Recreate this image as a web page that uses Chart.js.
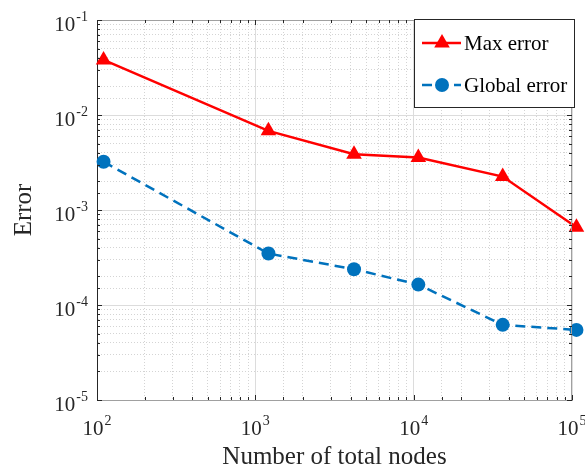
<!DOCTYPE html>
<html><head><meta charset="utf-8">
<script src="https://cdn.jsdelivr.net/npm/chart.js@4.4.0/dist/chart.umd.min.js"></script>
<style>html,body{margin:0;padding:0;background:#fff;}</style>
</head><body>
<canvas id="c" width="585" height="473"></canvas>
<script>
const nodes = [110, 1210, 4200, 10700, 36500, 106700];
const maxError = [0.038, 0.00681, 0.00386, 0.00356, 0.00225, 0.000659];
const globalError = [0.00322, 0.000348, 0.000238, 0.000164, 0.0000618, 0.0000547];
const seriesLabels = ['Max error', 'Global error'];
const xAxisTitle = 'Number of total nodes';
const yAxisTitle = 'Error';
const xRange = [1e2, 1e5];
const yRange = [1e-5, 1e-1];

const SERIF = '"Liberation Serif", "Times New Roman", serif';
function isMajor(v){ if (v === undefined || v === null) return true; const e = Math.log10(v); return Math.abs(e - Math.round(e)) < 1e-6; }
function expOf(v){ return Math.round(Math.log10(v)); }

const maxPts = nodes.map((x, i) => ({x, y: maxError[i]}));
const globPts = nodes.map((x, i) => ({x, y: globalError[i]}));

const gridColor = ctx => (ctx.tick && !isMajor(ctx.tick.value)) ? '#d4d4d4' : '#dcdcdc';
const gridDash = ctx => (ctx.tick && !isMajor(ctx.tick.value)) ? [1, 2] : [];

function drawPow(ctx, exp, x, y, align, baseOff, supOff) {
  ctx.font = '21px ' + SERIF;
  const wBase = ctx.measureText('10').width;
  ctx.font = '14px ' + SERIF;
  const sup = String(exp);
  const wSup = ctx.measureText(sup).width;
  const gap = 1;
  const total = wBase + gap + wSup;
  let x0 = align === 'right' ? x - total : x - total / 2;
  ctx.textAlign = 'left';
  ctx.textBaseline = 'alphabetic';
  ctx.font = '21px ' + SERIF;
  ctx.fillText('10', x0, y + baseOff);
  ctx.font = '14px ' + SERIF;
  ctx.fillText(sup, x0 + wBase + gap, y + supOff);
}

const boxPlugin = {
  id: 'boxTicks',
  afterDraw(chart) {
    const {ctx, chartArea: a, scales} = chart;
    ctx.save();
    // top & right box lines
    ctx.strokeStyle = '#a0a0a0';
    ctx.lineWidth = 1;
    ctx.beginPath();
    ctx.moveTo(a.left, a.top + 0.5); ctx.lineTo(a.right, a.top + 0.5);
    ctx.moveTo(a.right - 0.5, a.top); ctx.lineTo(a.right - 0.5, a.bottom);
    ctx.stroke();
    // inward ticks
    ctx.strokeStyle = '#262626';
    ctx.beginPath();
    scales.x.ticks.forEach(t => {
      const px = Math.round(scales.x.getPixelForValue(t.value)) + 0.5;
      const len = isMajor(t.value) ? 5 : 3;
      ctx.moveTo(px, a.bottom); ctx.lineTo(px, a.bottom - len);
      ctx.moveTo(px, a.top); ctx.lineTo(px, a.top + len);
    });
    scales.y.ticks.forEach(t => {
      const py = Math.round(scales.y.getPixelForValue(t.value)) + 0.5;
      const len = isMajor(t.value) ? 5 : 3;
      ctx.moveTo(a.left, py); ctx.lineTo(a.left + len, py);
      ctx.moveTo(a.right, py); ctx.lineTo(a.right - len, py);
    });
    ctx.stroke();
    // tick labels with superscript exponents
    ctx.fillStyle = '#262626';
    scales.x.ticks.forEach(t => {
      if (!isMajor(t.value)) return;
      const px = scales.x.getPixelForValue(t.value);
      drawPow(ctx, expOf(t.value), px, a.bottom, 'center', 35, 25);
    });
    scales.y.ticks.forEach(t => {
      if (!isMajor(t.value)) return;
      const py = scales.y.getPixelForValue(t.value);
      drawPow(ctx, expOf(t.value), a.left - 9, py, 'right', 11, 1);
    });
    // legend box
    const L = 414, T = 19, R = 575, B = 108;
    ctx.fillStyle = '#fff';
    ctx.fillRect(L, T, R - L, B - T);
    ctx.strokeStyle = '#262626';
    ctx.lineWidth = 1;
    ctx.strokeRect(L + 0.5, T + 0.5, R - L - 1, B - T - 1);
    const rows = [43, 85];
    chart.data.datasets.forEach((ds, i) => {
      const y = rows[i];
      ctx.strokeStyle = ds.borderColor;
      ctx.lineWidth = ds.borderWidth;
      ctx.setLineDash(ds.borderDash || []);
      ctx.lineDashOffset = 0;
      ctx.beginPath(); ctx.moveTo(422, y); ctx.lineTo(461, y); ctx.stroke();
      ctx.setLineDash([]);
      ctx.fillStyle = ds.pointBackgroundColor;
      ctx.beginPath();
      const cx = 442, r = ds.pointRadius;
      if (ds.pointStyle === 'triangle') {
        ctx.moveTo(cx, y - r);
        ctx.lineTo(cx + r * Math.sin(2*Math.PI/3), y - r * Math.cos(2*Math.PI/3));
        ctx.lineTo(cx - r * Math.sin(2*Math.PI/3), y - r * Math.cos(2*Math.PI/3));
        ctx.closePath();
      } else {
        ctx.arc(cx, y, r, 0, Math.PI * 2);
      }
      ctx.fill();
      ctx.fillStyle = '#000';
      ctx.font = '21px ' + SERIF;
      ctx.textBaseline = 'middle';
      ctx.textAlign = 'left';
      ctx.fillText(ds.label, 464, y + 1);
    });
    ctx.restore();
  }
};

new Chart(document.getElementById('c'), {
  type: 'line',
  data: {
    datasets: [
      {
        label: seriesLabels[0], data: maxPts,
        borderColor: '#ff0000', backgroundColor: '#ff0000',
        pointBackgroundColor: '#ff0000', pointBorderColor: '#ff0000',
        borderWidth: 2.5, pointStyle: 'triangle', pointRadius: 9, pointBorderWidth: 0,
        tension: 0, clip: false
      },
      {
        label: seriesLabels[1], data: globPts,
        borderColor: '#0072bd', backgroundColor: '#0072bd',
        pointBackgroundColor: '#0072bd', pointBorderColor: '#0072bd',
        borderWidth: 2.5, borderDash: [10, 6], pointStyle: 'circle', pointRadius: 7, pointBorderWidth: 0,
        tension: 0, clip: false
      }
    ]
  },
  options: {
    responsive: false,
    animation: false,
    layout: { padding: { top: 20, right: 13, left: 0, bottom: 0 } },
    plugins: { legend: { display: false }, tooltip: { enabled: false } },
    scales: {
      x: {
        type: 'logarithmic', min: xRange[0], max: xRange[1], position: 'bottom',
        afterFit: s => { s.height = 73; s.paddingLeft = 0; s.paddingRight = 0; },
        ticks: { display: false, autoSkip: false },
        grid: { color: gridColor, lineWidth: 1, drawTicks: false },
        border: { display: true, color: '#a0a0a0', width: 1, dash: gridDash },
        title: { display: true, text: xAxisTitle, color: '#262626', font: { family: SERIF, size: 25 }, padding: { top: 0, bottom: 1 } }
      },
      y: {
        type: 'logarithmic', min: yRange[0], max: yRange[1], position: 'left',
        afterFit: s => { s.width = 97; s.paddingTop = 0; s.paddingBottom = 0; },
        ticks: { display: false, autoSkip: false },
        grid: { color: gridColor, lineWidth: 1, drawTicks: false },
        border: { display: true, color: '#262626', width: 1, dash: gridDash },
        title: { display: true, text: yAxisTitle, color: '#262626', font: { family: SERIF, size: 25 }, padding: { top: 9, bottom: 0 } }
      }
    }
  },
  plugins: [boxPlugin]
});
</script>
</body></html>
